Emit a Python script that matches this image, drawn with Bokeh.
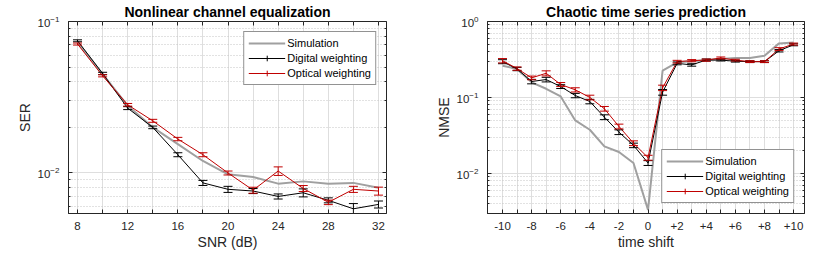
from bokeh.plotting import figure
from bokeh.models import (ColumnDataSource, Whisker, TeeHead, FixedTicker, LogTickFormatter,
                          Legend, LegendItem, LinearAxis, LogAxis, Range1d)
from bokeh.layouts import row
from bokeh.embed import file_html
from bokeh.resources import INLINE

# ---------------- data: nonlinear channel equalization ----------------
snr = [8, 10, 12, 14, 16, 18, 20, 22, 24, 26, 28, 30, 32]
ser_sim = [0.0730, 0.0450, 0.0278, 0.0200, 0.0155, 0.0120, 0.0098, 0.0094, 0.0085, 0.0088, 0.0085, 0.0086, 0.0080]
ser_dig = [0.0746, 0.0454, 0.0268, 0.0200, 0.0132, 0.0086, 0.0078, 0.0076, 0.0070, 0.0074, 0.0066, 0.0058, 0.0062]
ser_dig_err = [0.0011, 0.0008, 0.0006, 0.0004, 0.0004, 0.00033, 0.00036, 0.00029, 0.00027, 0.00045, 0.00025, 0.00048, 0.00033]
ser_opt = [0.0710, 0.0438, 0.0282, 0.0221, 0.01675, 0.0132, 0.0100, 0.0077, 0.0103, 0.0079, 0.0064, 0.0078, 0.0076]
ser_opt_err = [0.0011, 0.0007, 0.00056, 0.0005, 0.00043, 0.0004, 0.0003, 0.00035, 0.00067, 0.00036, 0.00022, 0.00036, 0.00046]
snr_ticks = [8, 10, 12, 14, 16, 18, 20, 22, 24, 26, 28, 30, 32]
snr_labels = ["8", "", "12", "", "16", "", "20", "", "24", "", "28", "", "32"]
ser_ticks = [0.01, 0.1]
ser_minor = [0.005, 0.006, 0.007, 0.008, 0.009, 0.02, 0.03, 0.04, 0.05, 0.06, 0.07, 0.08, 0.09]

# ---------------- data: chaotic time series prediction ----------------
shift = [-10, -9, -8, -7, -6, -5, -4, -3, -2, -1, 0, 1, 2, 3, 4, 5, 6, 7, 8, 9, 10]
nmse_sim = [0.262, 0.237, 0.158, 0.130, 0.103, 0.0498, 0.0375, 0.0227, 0.0191, 0.0137, 0.0033,
            0.225, 0.290, 0.300, 0.310, 0.321, 0.330, 0.330, 0.355, 0.515, 0.530]
nmse_dig = [0.296, 0.237, 0.162, 0.172, 0.139, 0.106, 0.0884, 0.055, 0.0349, 0.0234, 0.0137,
            0.117, 0.281, 0.268, 0.311, 0.310, 0.300, 0.296, 0.296, 0.412, 0.494]
nmse_dig_err = [0.018, 0.012, 0.011, 0.012, 0.008, 0.007, 0.006, 0.004, 0.0025, 0.0016, 0.0010,
                0.010, 0.012, 0.010, 0.010, 0.008, 0.008, 0.008, 0.008, 0.015, 0.015]
nmse_opt = [0.305, 0.240, 0.181, 0.208, 0.148, 0.126, 0.100, 0.071, 0.0415, 0.025, 0.0161,
            0.134, 0.296, 0.305, 0.310, 0.331, 0.310, 0.296, 0.296, 0.434, 0.505]
nmse_opt_err = [0.020, 0.012, 0.010, 0.016, 0.009, 0.008, 0.007, 0.005, 0.003, 0.0018, 0.0012,
                0.011, 0.012, 0.010, 0.010, 0.010, 0.008, 0.008, 0.008, 0.018, 0.015]
shift_ticks = shift
shift_labels = ["-10", "", "-8", "", "-6", "", "-4", "", "-2", "", "0", "", "+2", "", "+4", "",
                "+6", "", "+8", "", "+10"]
nmse_ticks = [0.01, 0.1, 1.0]
nmse_minor = [0.003, 0.004, 0.005, 0.006, 0.007, 0.008, 0.009,
              0.02, 0.03, 0.04, 0.05, 0.06, 0.07, 0.08, 0.09,
              0.2, 0.3, 0.4, 0.5, 0.6, 0.7, 0.8, 0.9]

FONT = "Liberation Sans"
AX = "#262626"
GRAY = "#a0a0a0"
RED = "#c00000"
BLACK = "#000000"


def panel(title, x, sim, dig, dig_err, opt, opt_err, xr, yr, xticks, xlabels, yticks, yminor,
          xlabel, ylabel, loc, fw, bl, br):
    p = figure(frame_width=fw, frame_height=192, x_range=Range1d(*xr), y_range=Range1d(*yr),
               y_axis_type="log", output_backend="svg", toolbar_location=None,
               min_border_left=bl, min_border_right=br, min_border_top=21, min_border_bottom=41,
               background_fill_color="white", border_fill_color="white")
    p.title.text = title
    p.title.text_font = FONT
    p.title.text_font_size = "14px"
    p.title.text_font_style = "bold"
    p.title.text_color = "black"
    p.title.align = "center"
    p.title.standoff = 3
    p.outline_line_color = AX
    p.outline_line_alpha = 1

    xt = FixedTicker(ticks=xticks)
    yt = FixedTicker(ticks=yticks, minor_ticks=yminor)
    overrides = {t: l for t, l in zip(xticks, xlabels)}

    p.xaxis.ticker = xt
    p.xaxis.major_label_overrides = overrides
    p.yaxis.ticker = yt
    p.yaxis.formatter = LogTickFormatter()
    for ax in (p.xaxis[0], p.yaxis[0]):
        ax.axis_line_color = AX
        ax.major_tick_line_color = AX
        ax.minor_tick_line_color = AX
        ax.major_tick_in = 4
        ax.major_tick_out = 0
        ax.minor_tick_in = 2
        ax.minor_tick_out = 0
        ax.major_label_text_font = FONT
        ax.major_label_text_font_size = "11.5px"
        ax.major_label_text_color = AX
        ax.axis_label_text_font = FONT
        ax.axis_label_text_font_size = "14px"
        ax.axis_label_text_font_style = "normal"
        ax.axis_label_text_color = AX
    p.xaxis.axis_label = xlabel
    p.yaxis.axis_label = ylabel
    p.xaxis.major_label_standoff = 8
    p.xaxis.axis_label_standoff = 1
    p.yaxis.major_label_standoff = 9
    p.yaxis.axis_label_standoff = 2

    top = LinearAxis(ticker=FixedTicker(ticks=xticks), major_label_text_font_size="1px",
                     major_label_text_color=None, major_label_standoff=0,
                     major_tick_in=4, major_tick_out=0,
                     axis_line_color=None, major_tick_line_color=AX, minor_tick_line_color=None)
    right = LogAxis(ticker=FixedTicker(ticks=yticks, minor_ticks=yminor),
                    major_label_text_font_size="1px", major_label_text_color=None,
                    major_label_standoff=0,
                    major_tick_in=4, major_tick_out=0, minor_tick_in=2, minor_tick_out=0,
                    axis_line_color=None, major_tick_line_color=AX, minor_tick_line_color=AX)
    p.add_layout(top, "above")
    p.add_layout(right, "right")

    p.xgrid.grid_line_color = "#dedede"
    p.ygrid.grid_line_color = "#dedede"
    p.ygrid.minor_grid_line_color = "#c4c4c4"
    p.ygrid.minor_grid_line_dash = "1 2"

    src = ColumnDataSource(dict(
        x=x, sim=sim, dig=dig, opt=opt,
        dig_lo=[v - e for v, e in zip(dig, dig_err)], dig_hi=[v + e for v, e in zip(dig, dig_err)],
        opt_lo=[v - e for v, e in zip(opt, opt_err)], opt_hi=[v + e for v, e in zip(opt, opt_err)],
    ))

    r_sim = p.line("x", "sim", source=src, line_color=GRAY, line_width=2)
    r_dig = p.line("x", "dig", source=src, line_color=BLACK, line_width=1)
    m_dig = p.scatter("x", "dig", source=src, marker="cross", size=0.1, line_color=BLACK, line_width=1)
    p.add_layout(Whisker(source=src, base="x", lower="dig_lo", upper="dig_hi", line_color=BLACK,
                         line_width=1, level="glyph",
                         lower_head=TeeHead(size=9, line_color=BLACK, line_width=1),
                         upper_head=TeeHead(size=9, line_color=BLACK, line_width=1)))
    r_opt = p.line("x", "opt", source=src, line_color=RED, line_width=1)
    m_opt = p.scatter("x", "opt", source=src, marker="cross", size=0.1, line_color=RED, line_width=1)
    p.add_layout(Whisker(source=src, base="x", lower="opt_lo", upper="opt_hi", line_color=RED,
                         line_width=1, level="glyph",
                         lower_head=TeeHead(size=9, line_color=RED, line_width=1),
                         upper_head=TeeHead(size=9, line_color=RED, line_width=1)))

    legend = Legend(items=[
        LegendItem(label="Simulation", renderers=[r_sim]),
        LegendItem(label="Digital weighting", renderers=[r_dig, m_dig]),
        LegendItem(label="Optical weighting", renderers=[r_opt, m_opt]),
    ], location=loc)
    legend.label_text_font = FONT
    legend.label_text_font_size = "11px"
    legend.label_text_color = "black"
    legend.glyph_width = 37
    legend.glyph_height = 14
    legend.label_height = 14
    legend.label_standoff = 2
    legend.padding = 4
    legend.spacing = 1
    legend.margin = 10
    legend.border_line_color = AX
    legend.border_line_width = 1
    legend.background_fill_color = "white"
    legend.background_fill_alpha = 1
    p.add_layout(legend)
    return p


p1 = panel("Nonlinear channel equalization", snr, ser_sim, ser_dig, ser_dig_err, ser_opt, ser_opt_err,
           (7.28, 32.64), (0.0054, 0.1), snr_ticks, snr_labels, ser_ticks, ser_minor,
           "SNR (dB)", "SER", "top_right", 318, 68, 41)
p2 = panel("Chaotic time series prediction", shift, nmse_sim, nmse_dig, nmse_dig_err, nmse_opt, nmse_opt_err,
           (-11.03, 10.75), (0.00296, 1.0), shift_ticks, shift_labels, nmse_ticks, nmse_minor,
           "time shift", "NMSE", "bottom_right", 317, 60, 31)

layout = row(p1, p2)
open("out.html", "w").write(file_html(layout, INLINE))
